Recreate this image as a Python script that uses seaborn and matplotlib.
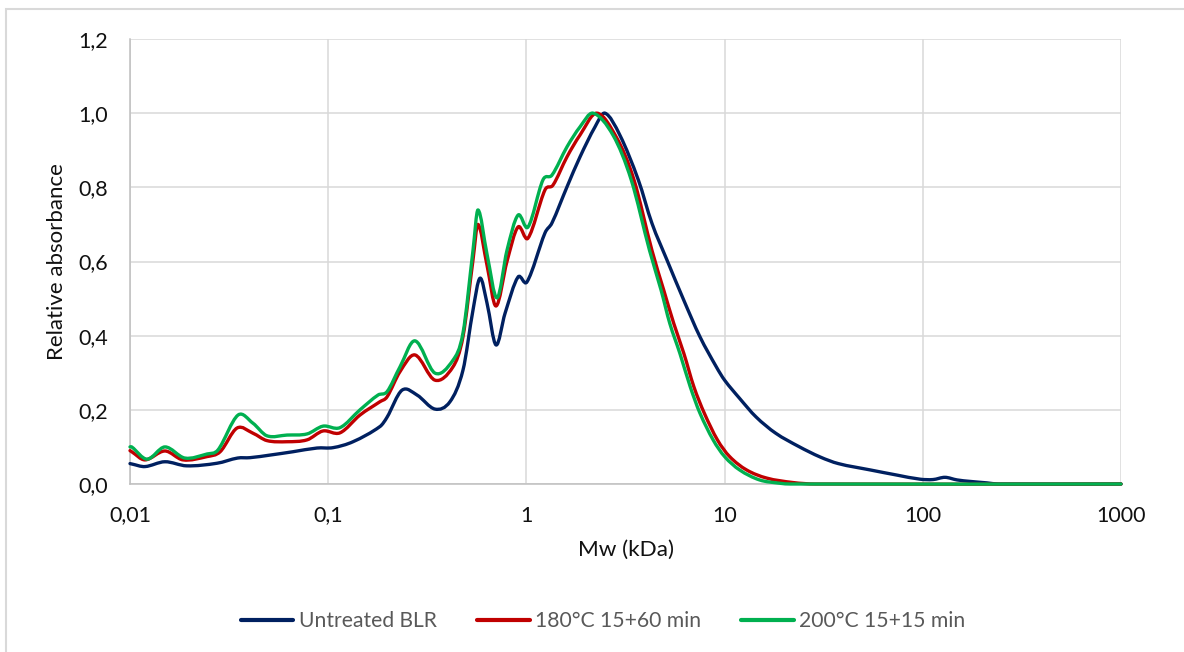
import matplotlib
matplotlib.use("Agg")
import numpy as np
import matplotlib.pyplot as plt
import seaborn as sns
import pandas as pd
from matplotlib.lines import Line2D
from matplotlib.patches import Rectangle, PathPatch
from matplotlib.path import Path
from matplotlib.ticker import FixedLocator, FuncFormatter, NullLocator

# Molecular weight distributions (Mw in kDa, relative absorbance)
untreated_mw = [0.01, 0.0102, 0.0119, 0.0150, 0.0193, 0.0275, 0.0349, 0.0403, 0.0509,
                0.0664, 0.0878, 0.1057, 0.1334, 0.1825, 0.1981, 0.2357, 0.2805, 0.3458,
                0.4117, 0.4786, 0.5377, 0.5834, 0.6327, 0.7025, 0.780, 0.9071, 1.007,
                1.241, 1.346, 1.602, 1.864, 2.219, 2.492, 2.967, 3.67, 4.30, 5.12,
                6.22, 7.51, 9.08, 10.0, 11.9, 14.4, 18.1, 23.7, 30.3, 37.5, 54.2, 74.1,
                96.8, 112.6, 129.4, 148.8, 173.0, 210.9, 241.0, 1000.0]
untreated_abs = [0.055, 0.054, 0.047, 0.060, 0.049, 0.056, 0.070, 0.071, 0.078,
                 0.087, 0.097, 0.098, 0.114, 0.155, 0.180, 0.253, 0.240, 0.202,
                 0.222, 0.307, 0.469, 0.555, 0.488, 0.375, 0.460, 0.558, 0.545,
                 0.677, 0.704, 0.801, 0.882, 0.963, 1.000, 0.940, 0.820, 0.703, 0.604,
                 0.496, 0.397, 0.316, 0.280, 0.231, 0.181, 0.137, 0.101, 0.073, 0.055, 0.038, 0.024,
                 0.013, 0.012, 0.018, 0.011, 0.007, 0.003, 0.000, 0.000]

t180_mw = [0.01, 0.0102, 0.0119, 0.0150, 0.0185, 0.0245, 0.0285, 0.0347, 0.0417,
           0.0491, 0.0620, 0.0782, 0.0941, 0.1147, 0.1447, 0.1825, 0.1981, 0.2303,
           0.2742, 0.3458, 0.4263, 0.4786, 0.5377, 0.570, 0.6327, 0.7025, 0.798,
           0.907, 1.019, 1.241, 1.362, 1.602, 1.864, 2.27, 2.865, 3.49, 4.30, 4.93,
           5.54, 6.23, 7.0, 7.9, 9.2, 10.6, 12.9, 16.3, 22.1, 28.6, 1000.0]
t180_abs = [0.090, 0.087, 0.065, 0.089, 0.065, 0.074, 0.087, 0.151, 0.137,
            0.117, 0.114, 0.119, 0.143, 0.138, 0.186, 0.222, 0.235, 0.303,
            0.348, 0.280, 0.316, 0.397, 0.604, 0.700, 0.590, 0.480, 0.600,
            0.693, 0.663, 0.793, 0.806, 0.882, 0.941, 1.000, 0.932, 0.820, 0.630, 0.523,
            0.433, 0.352, 0.262, 0.191, 0.119, 0.074, 0.038, 0.016, 0.004, 0.000, 0.000]

t200_mw = [0.01, 0.0102, 0.0122, 0.0150, 0.0189, 0.0245, 0.0278, 0.0351, 0.0417,
           0.0491, 0.0620, 0.0782, 0.0941, 0.1147, 0.1447, 0.1785, 0.1981, 0.2303,
           0.2742, 0.3458, 0.4263, 0.4786, 0.5377, 0.570, 0.6327, 0.711, 0.798,
           0.907, 1.019, 1.212, 1.346, 1.602, 1.864, 2.17, 2.74, 3.38, 4.18, 4.78,
           5.29, 5.95, 6.71, 7.51, 8.75, 10.0, 11.9, 15.0, 19.0, 21.5, 1000.0]
t200_abs = [0.100, 0.100, 0.067, 0.100, 0.070, 0.081, 0.092, 0.186, 0.164,
            0.130, 0.132, 0.135, 0.156, 0.152, 0.200, 0.240, 0.249, 0.316,
            0.386, 0.299, 0.334, 0.407, 0.630, 0.739, 0.620, 0.502, 0.630,
            0.725, 0.693, 0.820, 0.833, 0.909, 0.963, 1.000, 0.940, 0.820, 0.630, 0.523,
            0.433, 0.352, 0.262, 0.191, 0.119, 0.074, 0.038, 0.011, 0.002, 0.000, 0.000]

series_names = ["Untreated BLR", "180°C 15+60 min", "200°C 15+15 min"]
series_colors = ["#002060", "#C00000", "#00B050"]
x_ticks = [0.01, 0.1, 1, 10, 100, 1000]
x_tick_labels = ["0,01", "0,1", "1", "10", "100", "1000"]
y_ticks = [0.0, 0.2, 0.4, 0.6, 0.8, 1.0, 1.2]
LW = 2.4


def smooth_path(x, y):
    """Cubic Bezier path through the points (smoothed line), built in log-x space."""
    lx = np.log10(np.asarray(x, float))
    y = np.asarray(y, float)
    n = len(lx)
    m = np.zeros(n)
    for i in range(n):
        a, b = max(i - 1, 0), min(i + 1, n - 1)
        m[i] = (y[b] - y[a]) / (lx[b] - lx[a])
    verts = [(x[0], y[0])]
    codes = [Path.MOVETO]
    for i in range(n - 1):
        h = lx[i + 1] - lx[i]
        c1 = (10 ** (lx[i] + h / 3), y[i] + m[i] * h / 3)
        c2 = (10 ** (lx[i + 1] - h / 3), y[i + 1] - m[i + 1] * h / 3)
        verts += [c1, c2, (x[i + 1], y[i + 1])]
        codes += [Path.CURVE4] * 3
    return Path(verts, codes)


frames = []
for name, mw, ab in zip(series_names, [untreated_mw, t180_mw, t200_mw],
                        [untreated_abs, t180_abs, t200_abs]):
    frames.append(pd.DataFrame({"Mw": mw, "abs": ab, "series": name}))
df = pd.concat(frames, ignore_index=True)

sns.set_theme(style="white")
plt.rcParams["font.family"] = ["Lato", "DejaVu Sans"]

fig = plt.figure(figsize=(11.84, 6.52), dpi=100)
ax = fig.add_axes([130 / 1184, 1 - 484 / 652, (1121 - 130) / 1184, (484 - 39) / 652])

sns.lineplot(data=df, x="Mw", y="abs", hue="series", hue_order=series_names,
             palette=series_colors, linewidth=LW, sort=False, estimator=None,
             ax=ax, legend=False)

ax.set_xscale("log")
ax.set_xlim(0.01, 1000)
ax.set_ylim(0, 1.2)

# redraw each seaborn line as a smoothed curve through the same points
for k, ln in enumerate(list(ax.get_lines())):
    xd, yd = ln.get_xdata(), ln.get_ydata()
    patch = PathPatch(smooth_path(xd, yd), transform=ax.transData, fill=False,
                      edgecolor=ln.get_color(), linewidth=LW, joinstyle="round",
                      capstyle="round", clip_on=False, zorder=3 + k)
    ax.add_patch(patch)
    ln.set_visible(False)

ax.xaxis.set_major_locator(FixedLocator(x_ticks))
ax.xaxis.set_minor_locator(NullLocator())
ax.set_xticklabels(x_tick_labels)
ax.yaxis.set_major_locator(FixedLocator(y_ticks))
ax.yaxis.set_major_formatter(FuncFormatter(lambda v, p: f"{v:.1f}".replace(".", ",")))

ax.grid(True, which="major", color="#D9D9D9", linewidth=1.1)
ax.set_axisbelow(True)
for side in ["top", "right"]:
    ax.spines[side].set_visible(False)
for side in ["left", "bottom"]:
    ax.spines[side].set_color("#BFBFBF")
    ax.spines[side].set_linewidth(1.1)
    ax.spines[side].set_zorder(1.5)

ax.tick_params(axis="both", length=0, labelsize=15.5, labelcolor="#111111")
ax.tick_params(axis="y", pad=16)
ax.tick_params(axis="x", pad=15.5)

ax.set_xlabel("Mw (kDa)", fontsize=16.2, color="#111111", labelpad=10)
ax.set_ylabel("Relative absorbance", fontsize=16, color="#111111", labelpad=8)

handles = [Line2D([], [], color=c, linewidth=3, solid_capstyle="round") for c in series_colors]
fig.legend(handles, series_names, loc="center", bbox_to_anchor=(603 / 1184, 1 - 621 / 652),
           ncol=3, frameon=False, fontsize=15.2, handlelength=2.5,
           handletextpad=0.25, columnspacing=1.9, labelcolor="#595959")

# outer chart frame
fig.patches.append(Rectangle((6 / 1184, -0.1), 1.2, 1.1 - 9 / 652,
                             transform=fig.transFigure, fill=False,
                             edgecolor="#D9D9D9", linewidth=1.5))

fig.savefig("out.png", dpi=100, facecolor="white")
